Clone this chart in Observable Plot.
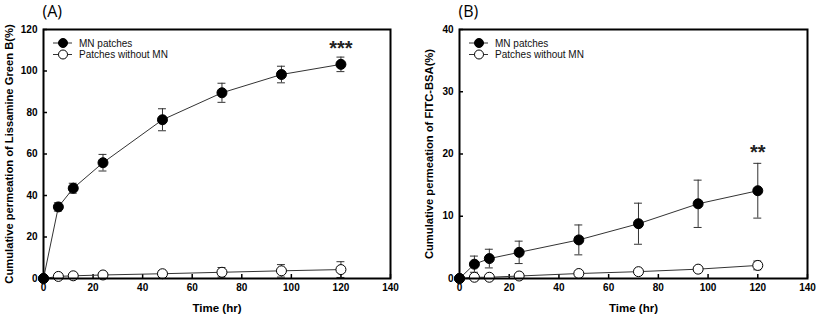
<!DOCTYPE html>
<html>
<head>
<meta charset="utf-8">
<script src="https://cdn.jsdelivr.net/npm/d3@7"></script>
<script src="https://cdn.jsdelivr.net/npm/@observablehq/plot@0.6"></script>
<style>
body { margin: 0; background: #fff; }
#wrap { display: flex; width: 817px; height: 319px; }
</style>
</head>
<body>
<div id="wrap"></div>
<script>
const times = [0, 6, 12, 24, 48, 72, 96, 120];

// Panel A: Lissamine Green B
const aMN = [0, 34.5, 43.5, 55.8, 76.5, 89.5, 98.3, 103.2];
const aMNerr = [0, 2.0, 2.4, 4.0, 5.3, 4.6, 4.0, 3.5];
const aNo = [0, 1.0, 1.3, 1.7, 2.3, 3.0, 3.7, 4.3];
const aNoerr = [0, 0.5, 0.6, 0.8, 1.5, 2.3, 3.0, 3.8];

// Panel B: FITC-BSA
const bMN = [0, 2.3, 3.2, 4.2, 6.2, 8.8, 12.0, 14.1];
const bMNerr = [0, 1.3, 1.5, 1.8, 2.4, 3.3, 3.8, 4.4];
const bNo = [0, 0.2, 0.2, 0.4, 0.8, 1.1, 1.5, 2.1];
const bNoerr = [0, 0.1, 0.1, 0.1, 0.2, 0.2, 0.3, 0.7];

const xTicks = [0, 20, 40, 60, 80, 100, 120, 140];
const aYTicks = [0, 20, 40, 60, 80, 100, 120];
const bYTicks = [0, 10, 20, 30, 40];

const seriesNames = ["MN patches", "Patches without MN"];

function rows(vals, errs) {
  return times.map((t, i) => ({t, v: vals[i], e: errs[i]}));
}

function panel(opts) {
  const {width, mL, mR, mT, mB, yMax, yTicks, mn, no, letter, ylabel, stars, capW} = opts;
  const fw = width - mL - mR;
  const fh = 319 - mT - mB;
  const font = "'Liberation Sans', Arial, sans-serif";
  const errMarks = (d) => [
    Plot.ruleX(d.filter(r => r.e > 0), {x: "t", y1: r => r.v - r.e, y2: r => r.v + r.e, stroke: "#333", strokeWidth: 1}),
    Plot.ruleY(d.filter(r => r.e > 0), {y: r => r.v + r.e, x1: r => r.t - capW, x2: r => r.t + capW, stroke: "#333", strokeWidth: 1}),
    Plot.ruleY(d.filter(r => r.e > 0), {y: r => r.v - r.e, x1: r => r.t - capW, x2: r => r.t + capW, stroke: "#333", strokeWidth: 1})
  ];
  const p = Plot.plot({
    width, height: 319,
    marginLeft: mL, marginRight: mR, marginTop: mT, marginBottom: mB,
    style: {fontFamily: font, background: "#fff", overflow: "visible"},
    x: {domain: [0, 140]},
    y: {domain: [0, yMax]},
    marks: [
      Plot.axisX(xTicks, {tickSize: 0, tickPadding: 5, fontWeight: "bold", fontSize: 10, label: null}),
      Plot.axisY(yTicks, {tickSize: 0, tickPadding: 6, fontWeight: "bold", fontSize: 10, label: null}),
      Plot.ruleX(xTicks, {x: d => d, insetTop: fh - 4, stroke: "#000", strokeWidth: 1.5}),
      Plot.ruleY(yTicks, {y: d => d, insetRight: fw - 4, stroke: "#000", strokeWidth: 1.5}),
      ...errMarks(no),
      ...errMarks(mn),
      Plot.line(no, {x: "t", y: "v", stroke: "#333", strokeWidth: 1}),
      Plot.line(mn, {x: "t", y: "v", stroke: "#333", strokeWidth: 1}),
      Plot.dot(no, {x: "t", y: "v", r: 5, fill: "#fff", stroke: "#000", strokeWidth: 1}),
      Plot.dot(mn, {x: "t", y: "v", r: 5, fill: "#000", stroke: "#000", strokeWidth: 1}),
      Plot.text([stars], {x: d => d.x, y: d => d.y, text: d => d.s, fontSize: 20, fontWeight: "bold", fill: "#222", lineAnchor: "middle"}),
      Plot.frame({stroke: "#000", strokeWidth: 2}),
      Plot.text([letter], {frameAnchor: "top-left", dy: -18, dx: -1, text: d => d, fontSize: 16, fontFamily: "'Open Sans', sans-serif", textAnchor: "start", lineAnchor: "middle"}),
      Plot.text([ylabel], {frameAnchor: "left", dx: -(opts.ylabX), rotate: -90, text: d => d, fontSize: 11.2, fontWeight: "bold", textAnchor: "middle"}),
      Plot.text(["Time (hr)"], {frameAnchor: "bottom", dy: 33, text: d => d, fontSize: 11.5, fontWeight: "bold"})
    ]
  });
  // legend
  const svg = d3.select(p);
  const lg = svg.append("g").attr("transform", `translate(${mL},${mT})`)
    .attr("font-family", font).attr("font-size", 10).attr("text-anchor", "start");
  seriesNames.forEach((name, i) => {
    const y = 14 + i * 11.5;
    lg.append("line").attr("x1", 10).attr("x2", 29).attr("y1", y).attr("y2", y).attr("stroke", "#333");
    lg.append("circle").attr("cx", 20).attr("cy", y).attr("r", 4.5)
      .attr("fill", i === 0 ? "#000" : "#fff").attr("stroke", "#000");
    lg.append("text").attr("x", 36).attr("y", y).attr("dy", "0.35em").attr("fill", "#111")
      .style("text-anchor", "start").text(name);
  });
  return p;
}

const wrap = document.getElementById("wrap");
wrap.appendChild(panel({
  width: 409, mL: 43, mR: 19, mT: 29, mB: 41,
  yMax: 120, yTicks: aYTicks,
  mn: rows(aMN, aMNerr), no: rows(aNo, aNoerr),
  letter: "(A)", ylabel: "Cumulative permeation of Lissamine Green B(%)", ylabX: 34,
  stars: {x: 120, y: 111, s: "***"}, capW: 1.6
}));
wrap.appendChild(panel({
  width: 408, mL: 50, mR: 10, mT: 29, mB: 41,
  yMax: 40, yTicks: bYTicks,
  mn: rows(bMN, bMNerr), no: rows(bNo, bNoerr),
  letter: "(B)", ylabel: "Cumulative permeation of FITC-BSA(%)", ylabX: 30,
  stars: {x: 120, y: 20.3, s: "**"}, capW: 1.6
}));
</script>
</body>
</html>
